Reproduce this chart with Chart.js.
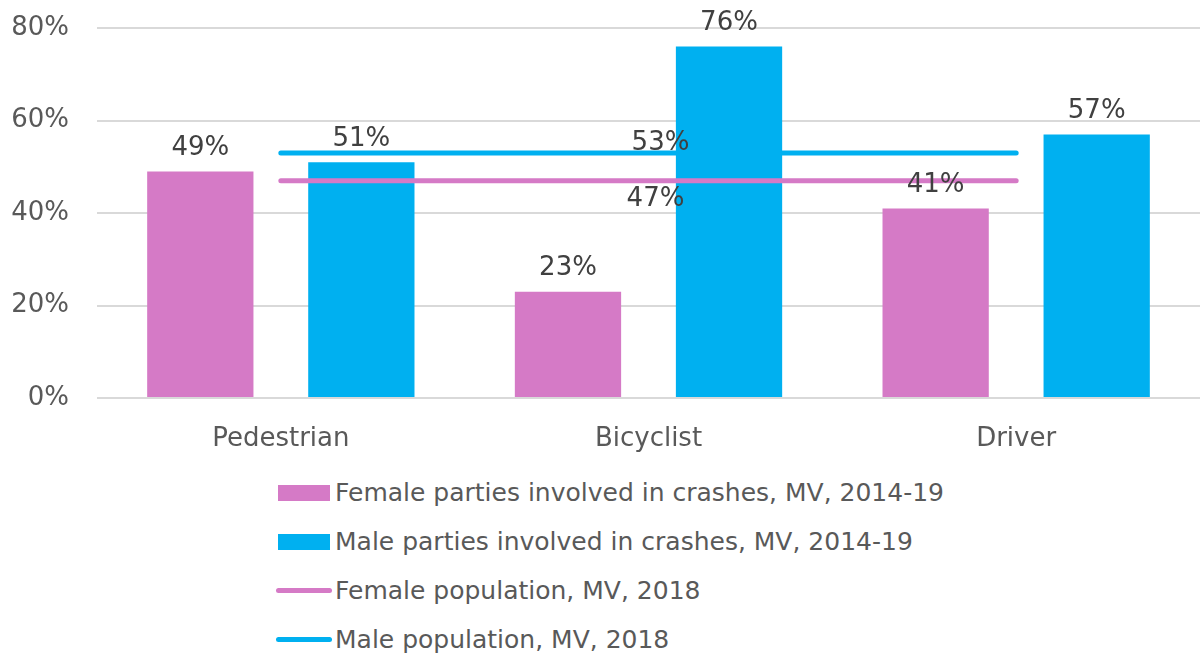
<!DOCTYPE html>
<html>
<head>
<meta charset="utf-8">
<script src="https://cdn.jsdelivr.net/npm/chart.js@4/dist/chart.umd.min.js"></script>
<style>
  html, body { margin: 0; padding: 0; background: #fff; }
  #wrap { position: relative; width: 1202px; height: 660px; }
  #chartBox { position: absolute; left: 0; top: 0; width: 1202px; height: 462px; }
  #legend { position: absolute; left: 278px; top: 468px; font-family: "DejaVu Sans", sans-serif; font-size: 25px; color: #595959; }
  .item { display: flex; align-items: center; height: 49px; }
  .swatch { width: 52px; margin-right: 5px; }
  .swatch.box { height: 16px; }
  .swatch.line { height: 5px; border-radius: 3px; width: 56px; margin-left: -2px; margin-right: 3px; }
</style>
</head>
<body>
<div id="wrap">
  <div id="chartBox"><canvas id="crashChart"></canvas></div>
  <div id="legend"></div>
</div>
<script>
const categories = ["Pedestrian", "Bicyclist", "Driver"];
const femaleParties = [49, 23, 41];
const maleParties = [51, 76, 57];
const femalePopulation = [47, 47, 47];
const malePopulation = [53, 53, 53];
const yTicks = [0, 20, 40, 60, 80];

const pink = "#D57AC6";
const blue = "#00B0F0";
const labelColor = "#404040";
const axisColor = "#595959";
const fontFamily = "'DejaVu Sans', sans-serif";

// value labels: above each bar, and only the middle point of the two lines
const valueLabels = {
    id: "valueLabels",
    afterDatasetsDraw(chart) {
        const ctx = chart.ctx;
        ctx.save();
        ctx.font = "26px " + fontFamily;
        ctx.fillStyle = labelColor;
        ctx.textAlign = "center";
        chart.data.datasets.forEach((ds, i) => {
            const meta = chart.getDatasetMeta(i);
            meta.data.forEach((el, j) => {
                const v = ds.data[j];
                if (ds.type === "bar") {
                    ctx.textBaseline = "bottom";
                    ctx.fillText(v + "%", el.x, el.y - 10);
                } else if (j === 1) {
                    if (ds.labelPos === "above") {
                        ctx.textBaseline = "bottom";
                        ctx.fillText(v + "%", el.x + 12, el.y + 3);
                    } else {
                        ctx.textBaseline = "top";
                        ctx.fillText(v + "%", el.x + 7, el.y + 6);
                    }
                }
            });
        });
        ctx.restore();
    }
};

const chart = new Chart(document.getElementById("crashChart"), {
    data: {
        labels: categories,
        datasets: [
            {
                type: "bar",
                label: "Female parties involved in crashes, MV, 2014-19",
                data: femaleParties,
                backgroundColor: pink,
                categoryPercentage: 0.876,
                barPercentage: 0.66,
                order: 2,
            },
            {
                type: "bar",
                label: "Male parties involved in crashes, MV, 2014-19",
                data: maleParties,
                backgroundColor: blue,
                categoryPercentage: 0.876,
                barPercentage: 0.66,
                order: 2,
            },
            {
                type: "line",
                label: "Female population, MV, 2018",
                data: femalePopulation,
                borderColor: pink,
                borderWidth: 5,
                borderCapStyle: "round",
                pointRadius: 0,
                labelPos: "below",
                order: 1,
            },
            {
                type: "line",
                label: "Male population, MV, 2018",
                data: malePopulation,
                borderColor: blue,
                borderWidth: 5,
                borderCapStyle: "round",
                pointRadius: 0,
                labelPos: "above",
                order: 1,
            },
        ],
    },
    options: {
        responsive: true,
        maintainAspectRatio: false,
        animation: false,
        layout: { padding: { top: 28, right: 2, left: 0, bottom: 0 } },
        plugins: {
            legend: { display: false },
            tooltip: { enabled: false },
        },
        scales: {
            x: {
                grid: { display: false },
                border: { display: false },
                ticks: {
                    color: axisColor,
                    font: { family: fontFamily, size: 26 },
                    padding: 18,
                },
                afterFit(scale) { scale.height = 64; },
            },
            y: {
                min: 0,
                max: 80,
                afterBuildTicks(scale) {
                    scale.ticks = yTicks.map((v) => ({ value: v }));
                },
                grid: { color: "#D9D9D9", lineWidth: 2, drawTicks: false },
                border: { display: false },
                ticks: {
                    color: axisColor,
                    font: { family: fontFamily, size: 26 },
                    padding: 28,
                    callback: (v) => v + "%",
                },
                afterFit(scale) {
                    scale.width = 97;
                    scale.paddingTop = 0;
                    scale.paddingBottom = 0;
                },
            },
        },
    },
    plugins: [valueLabels],
});

// stacked legend under the chart
const legendEl = document.getElementById("legend");
chart.data.datasets.forEach((ds) => {
    const row = document.createElement("div");
    row.className = "item";
    const sw = document.createElement("span");
    sw.className = "swatch " + (ds.type === "bar" ? "box" : "line");
    sw.style.background = ds.type === "bar" ? ds.backgroundColor : ds.borderColor;
    const txt = document.createElement("span");
    txt.textContent = ds.label;
    row.appendChild(sw);
    row.appendChild(txt);
    legendEl.appendChild(row);
});
</script>
</body>
</html>
